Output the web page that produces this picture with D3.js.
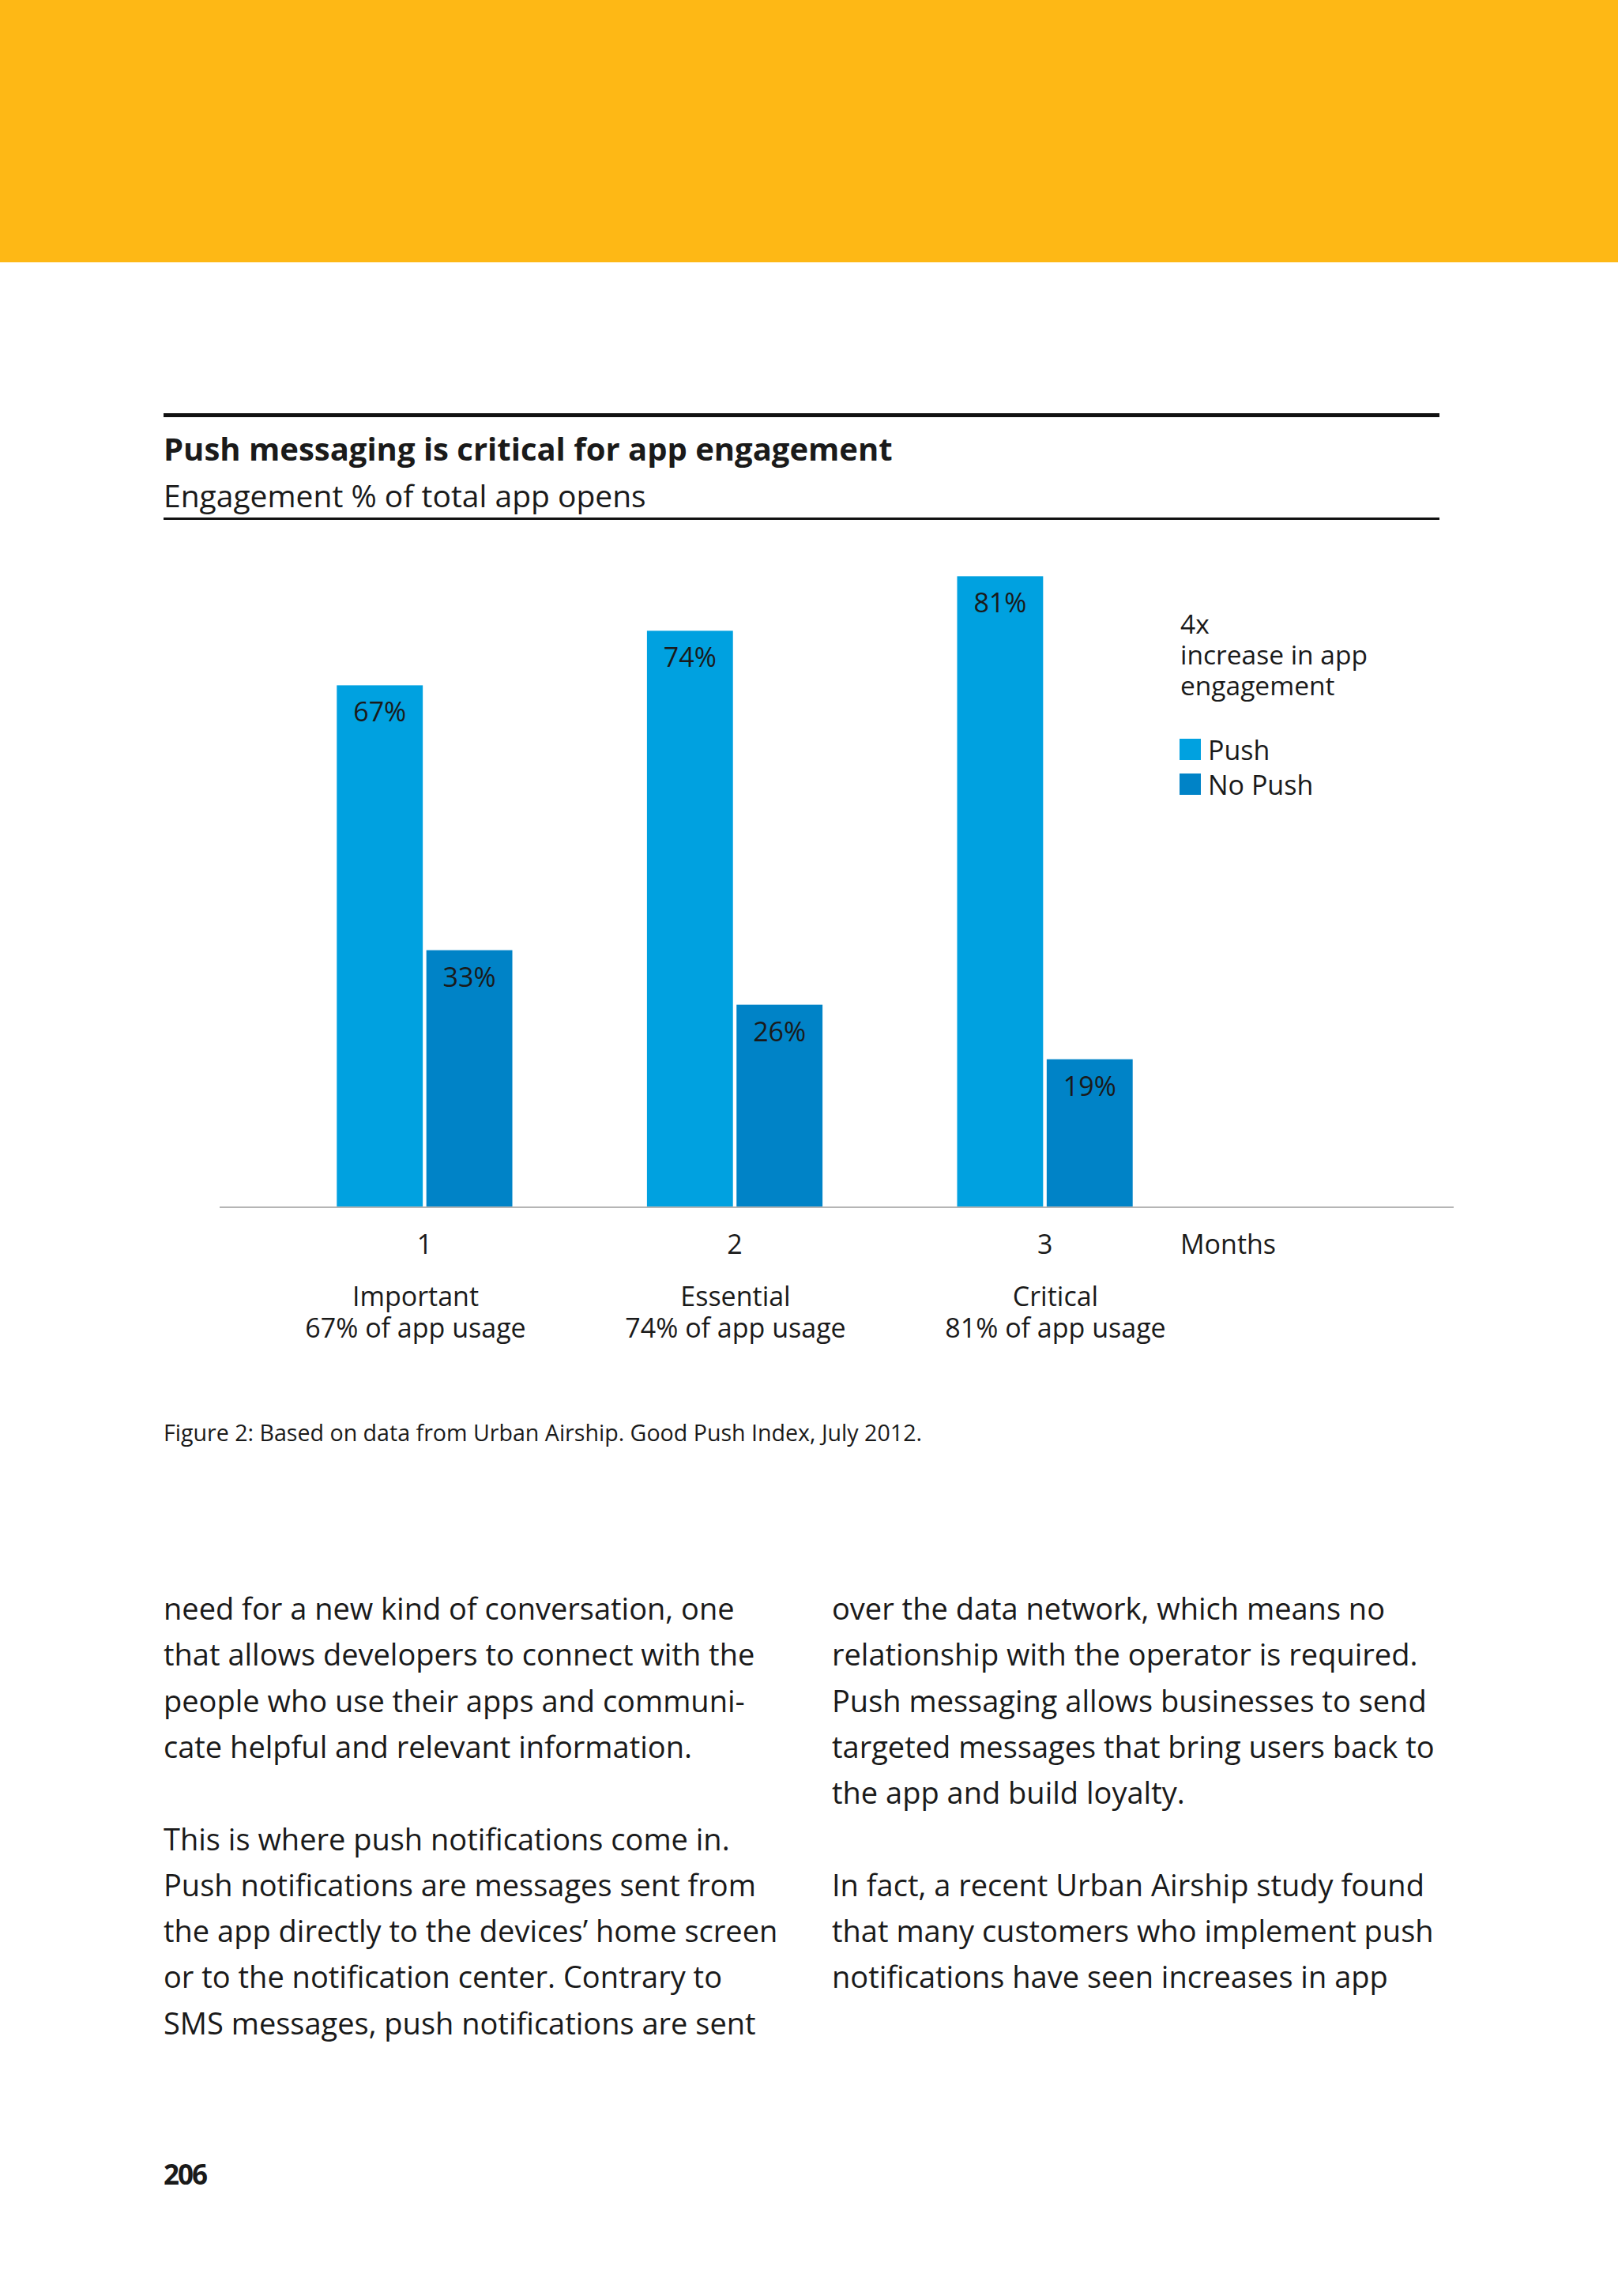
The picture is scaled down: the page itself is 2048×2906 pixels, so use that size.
<!DOCTYPE html>
<html lang="en">
<head>
  <meta charset="UTF-8">
  <title>Push messaging is critical for app engagement</title>
  <script src="https://d3js.org/d3.v7.min.js"></script>
  <style>
    body { margin: 0; background: #fff; }
    text { font-family: "Open Sans", Lato, sans-serif; fill: #1a1a1a; }
  </style>
</head>
<body>
  <svg id="page" width="2048" height="2906"></svg>

  <script>
    // Chart data
    const months = ["1", "2", "3"];
    const pushValues = [67, 74, 81];
    const noPushValues = [33, 26, 19];
    const tierNames = ["Important", "Essential", "Critical"];
    const usageLabels = ["67% of app usage", "74% of app usage", "81% of app usage"];
    const seriesNames = ["Push", "No Push"];
    const seriesColors = ["#00a1e0", "#0083c7"];
    const noteLines = ["4x", "increase in app", "engagement"];

    // Body text of the page
    const leftColumn = [
      "need for a new kind of conversation, one",
      "that allows developers to connect with the",
      "people who use their apps and communi-",
      "cate helpful and relevant information.",
      "",
      "This is where push notifications come in.",
      "Push notifications are messages sent from",
      "the app directly to the devices\u2019 home screen",
      "or to the notification center. Contrary to",
      "SMS messages, push notifications are sent"
    ];
    const rightColumn = [
      "over the data network, which means no",
      "relationship with the operator is required.",
      "Push messaging allows businesses to send",
      "targeted messages that bring users back to",
      "the app and build loyalty.",
      "",
      "In fact, a recent Urban Airship study found",
      "that many customers who implement push",
      "notifications have seen increases in app"
    ];

    const width = 2048;
    const svg = d3.select("#page");

    // Yellow header band
    svg.append("rect")
      .attr("x", 0).attr("y", 0)
      .attr("width", width).attr("height", 332)
      .attr("fill", "#feb815");

    // Title block with rules
    svg.append("rect")
      .attr("x", 207).attr("y", 523)
      .attr("width", 1615).attr("height", 5)
      .attr("fill", "#111");
    svg.append("text")
      .attr("x", 207).attr("y", 583)
      .attr("font-size", 40).attr("font-weight", 700)
      .text("Push messaging is critical for app engagement");
    svg.append("text")
      .attr("x", 207).attr("y", 642)
      .attr("font-size", 39)
      .text("Engagement % of total app opens");
    svg.append("rect")
      .attr("x", 207).attr("y", 655)
      .attr("width", 1615).attr("height", 3)
      .attr("fill", "#111");

    // Scales
    const baseY = 1528;
    const x0 = d3.scaleBand()
      .domain(months)
      .range([230, 1630])
      .paddingInner(0.434)
      .paddingOuter(0.5);

    const x1 = d3.scaleBand()
      .domain(seriesNames)
      .range([0, x0.bandwidth()])
      .paddingInner(0.04);

    // descriptions below the ticks sit on a slightly wider spacing
    const xDesc = d3.scalePoint()
      .domain(months)
      .range([526, 1336]);

    const y = d3.scaleLinear()
      .domain([0, 100])
      .range([baseY, 542]);

    const color = d3.scaleOrdinal().domain(seriesNames).range(seriesColors);

    const rows = months.map((m, i) => ({
      month: m,
      values: [
        { key: "Push", value: pushValues[i] },
        { key: "No Push", value: noPushValues[i] }
      ]
    }));

    // Bars
    const groups = svg.append("g")
      .selectAll("g")
      .data(rows)
      .join("g")
      .attr("transform", d => `translate(${x0(d.month)},0)`);

    groups.selectAll("rect")
      .data(d => d.values)
      .join("rect")
      .attr("x", d => x1(d.key))
      .attr("y", d => y(d.value))
      .attr("width", x1.bandwidth())
      .attr("height", d => baseY - y(d.value))
      .attr("fill", d => color(d.key));

    groups.selectAll("text.value")
      .data(d => d.values)
      .join("text")
      .attr("class", "value")
      .attr("x", d => x1(d.key) + x1.bandwidth() / 2)
      .attr("y", d => y(d.value) + 46)
      .attr("text-anchor", "middle")
      .attr("font-size", 34)
      .text(d => d.value + "%");

    // Baseline
    svg.append("line")
      .attr("x1", 278).attr("x2", 1840)
      .attr("y1", baseY).attr("y2", baseY)
      .attr("stroke", "#b5b5b5")
      .attr("stroke-width", 2);

    // Month ticks
    const xAxis = svg.append("g")
      .attr("transform", `translate(0, ${baseY})`)
      .call(d3.axisBottom(x0).tickSize(0).tickPadding(59));
    xAxis.select(".domain").remove();
    xAxis.selectAll("text")
      .attr("font-size", 34)
      .attr("font-family", "'Open Sans', sans-serif")
      .attr("fill", "#1a1a1a")
      .attr("dy", 0);

    svg.append("text")
      .attr("x", 1494).attr("y", 1587)
      .attr("font-size", 34)
      .text("Months");

    // Tier descriptions under each month
    const desc = svg.append("g")
      .selectAll("text")
      .data(months)
      .join("text")
      .attr("x", d => xDesc(d))
      .attr("y", 1653)
      .attr("text-anchor", "middle")
      .attr("font-size", 34);
    desc.append("tspan")
      .text((d, i) => tierNames[i]);
    desc.append("tspan")
      .attr("x", d => xDesc(d))
      .attr("dy", 40)
      .text((d, i) => usageLabels[i]);

    // Note and legend
    svg.append("g")
      .selectAll("text")
      .data(noteLines)
      .join("text")
      .attr("x", 1494)
      .attr("y", (d, i) => 802 + i * 39)
      .attr("font-size", 33.5)
      .text(d => d);

    const legend = svg.append("g")
      .selectAll("g")
      .data(seriesNames)
      .join("g")
      .attr("transform", (d, i) => `translate(1493, ${935 + i * 44})`);
    legend.append("rect")
      .attr("width", 27).attr("height", 27)
      .attr("fill", d => color(d));
    legend.append("text")
      .attr("x", 36).attr("y", 27)
      .attr("font-size", 34)
      .text(d => d);

    // Caption
    svg.append("text")
      .attr("x", 207).attr("y", 1824)
      .attr("font-size", 28.6)
      .text("Figure 2: Based on data from Urban Airship. Good Push Index, July 2012.");

    // Body columns
    function column(lines, x) {
      svg.append("g")
        .selectAll("text")
        .data(lines)
        .join("text")
        .attr("x", x)
        .attr("y", (d, i) => 2050 + i * 58.3)
        .attr("font-size", 38)
        .text(d => d);
    }
    column(leftColumn, 207);
    column(rightColumn, 1053);

    // Page number
    svg.append("text")
      .attr("x", 207).attr("y", 2765)
      .attr("font-size", 35)
      .attr("font-weight", 700)
      .attr("letter-spacing", -2)
      .text("206");
  </script>
</body>
</html>
